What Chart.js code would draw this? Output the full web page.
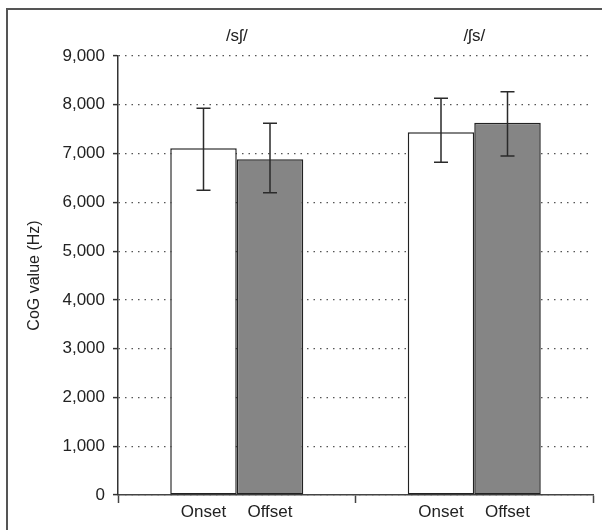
<!DOCTYPE html>
<html>
<head>
<meta charset="utf-8">
<script src="https://cdn.jsdelivr.net/npm/chart.js@4/dist/chart.umd.min.js"></script>
<style>
  html, body { margin: 0; padding: 0; background: #ffffff; }
  #wrap { width: 602px; height: 530px; position: relative; }
</style>
</head>
<body>
<div id="wrap"><canvas id="c" width="602" height="530"></canvas></div>
<script>
const categories = ['/s\u0283/', '/\u0283s/'];
const seriesNames = ['Onset', 'Offset'];
const onsetMean = [7110, 7435];
const offsetMean = [6882, 7633];
const onsetErrHigh = [7927, 8132];
const onsetErrLow = [6246, 6820];
const offsetErrHigh = [7620, 8268];
const offsetErrLow = [6198, 6950];
const yTicks = [0, 1000, 2000, 3000, 4000, 5000, 6000, 7000, 8000, 9000];

const FONT = '"Liberation Sans", Arial, Helvetica, sans-serif';
const errHigh = [onsetErrHigh, offsetErrHigh];
const errLow = [onsetErrLow, offsetErrLow];

const decor = {
  id: 'decor',
  beforeDraw(chart) {
    const ctx = chart.ctx;
    ctx.save();
    ctx.fillStyle = '#ffffff';
    ctx.fillRect(0, 0, chart.width, chart.height);
    ctx.strokeStyle = '#555555';
    ctx.lineWidth = 2;
    ctx.strokeRect(7, 9, 620, 560);
    ctx.restore();
  },
  afterDatasetsDraw(chart) {
    const ctx = chart.ctx;
    const y = chart.scales.y;
    ctx.save();
    chart.data.datasets.forEach((ds, di) => {
      const meta = chart.getDatasetMeta(di);
      meta.data.forEach((bar, i) => {
        const x = bar.x;
        const yh = y.getPixelForValue(errHigh[di][i]);
        const yl = y.getPixelForValue(errLow[di][i]);
        ctx.strokeStyle = '#2a2a2a';
        ctx.lineWidth = 1.5;
        ctx.beginPath();
        ctx.moveTo(x, yh); ctx.lineTo(x, yl);
        ctx.moveTo(x - 7, yh); ctx.lineTo(x + 7, yh);
        ctx.moveTo(x - 7, yl); ctx.lineTo(x + 7, yl);
        ctx.stroke();
        // bar label under axis
        ctx.fillStyle = '#222222';
        ctx.font = '17px ' + FONT;
        ctx.textAlign = 'center';
        ctx.textBaseline = 'alphabetic';
        ctx.fillText(ds.label, x, 517);
      });
    });
    ctx.restore();
  }
};

new Chart(document.getElementById('c'), {
  type: 'bar',
  data: {
    labels: categories,
    datasets: [
      { label: seriesNames[0], data: onsetMean, backgroundColor: '#ffffff', borderColor: '#222222', borderWidth: 1.5, borderSkipped: false },
      { label: seriesNames[1], data: offsetMean, backgroundColor: '#858585', borderColor: '#222222', borderWidth: 1.5, borderSkipped: false }
    ]
  },
  options: {
    responsive: false,
    animation: false,
    devicePixelRatio: 1,
    layout: { padding: { left: 0, right: 9, top: 0, bottom: 0 } },
    plugins: { legend: { display: false }, tooltip: { enabled: false } },
    datasets: { bar: { categoryPercentage: 0.56, barPercentage: 1.0 } },
    scales: {
      x: {
        type: 'category',
        position: 'bottom',
        offset: true,
        grid: { display: true, offset: true, drawOnChartArea: false, drawTicks: true, tickLength: 8, tickColor: '#444444', tickWidth: 1.5 },
        border: { display: true, color: '#444444', width: 1.5 },
        ticks: { display: false },
        afterFit(s) { s.height = 35; }
      },
      x2: {
        type: 'category',
        position: 'top',
        labels: categories,
        offset: true,
        grid: { display: false },
        border: { display: false },
        ticks: { display: true, color: '#222222', font: { family: FONT, size: 17 }, padding: 1, maxRotation: 0 },
        afterFit(s) { s.height = 56; }
      },
      y: {
        type: 'linear',
        min: 0,
        max: 9000,
        afterBuildTicks(s) { s.ticks = yTicks.map(v => ({ value: v })); },
        ticks: {
          color: '#222222',
          font: { family: FONT, size: 17 },
          padding: 8,
          callback: v => v.toLocaleString('en-US')
        },
        grid: { display: true, drawOnChartArea: true, color: '#555555', lineWidth: 1.2, borderDash: [1.5, 5], drawTicks: true, tickLength: 5, tickColor: '#333333', tickWidth: 1.5, tickBorderDash: [] },
        border: { display: true, color: '#333333', width: 1.5, dash: [1.5, 5] },
        title: { display: true, text: 'CoG value (Hz)', color: '#222222', font: { family: FONT, size: 16 }, padding: { top: 25, bottom: 0 } },
        afterFit(s) { s.width = 118; }
      }
    }
  },
  plugins: [decor]
});
</script>
</body>
</html>
